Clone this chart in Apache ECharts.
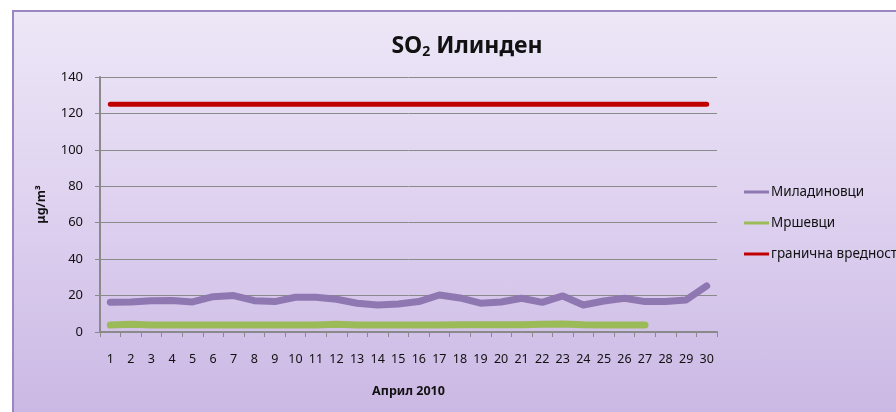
<!DOCTYPE html>
<html>
<head>
<meta charset="utf-8">
<script src="https://cdn.jsdelivr.net/npm/echarts@6/dist/echarts.min.js"></script>
<style>
  html, body { margin: 0; padding: 0; width: 896px; height: 412px; overflow: hidden; background: #fff; }
  .frame {
    position: absolute; left: 12px; top: 10px; width: 900px; height: 420px;
    border: 2px solid #9a86c2; box-sizing: border-box;
    background: linear-gradient(to bottom, #ede7f7 0%, #ddd0ef 50%, #c9b6e3 100%);
  }
  #chart { position: absolute; left: 0; top: 0; width: 896px; height: 412px; }
</style>
</head>
<body>
<div class="frame"></div>
<div id="chart"></div>
<script>
var days = ["1","2","3","4","5","6","7","8","9","10","11","12","13","14","15",
            "16","17","18","19","20","21","22","23","24","25","26","27","28","29","30"];
var miladinovci = [16.3, 16.5, 17.2, 17.3, 16.5, 19.4, 20, 17.2, 16.7, 19.1, 19.1, 18, 15.8, 14.8, 15.4,
                   16.7, 20.3, 18.7, 15.8, 16.5, 18.5, 16.3, 19.8, 14.8, 17, 18.5, 16.7, 16.8, 17.6, 25.3];
var mrsevci = [3.8, 4.2, 3.9, 3.8, 3.8, 3.8, 3.8, 3.8, 3.8, 3.8, 3.8, 4.2, 3.8, 3.8, 3.8,
               3.8, 3.9, 4.0, 4.0, 4.0, 4.0, 4.3, 4.4, 4.0, 3.9, 3.8, 3.8, null, null, null];
var limit = [125, 125, 125, 125, 125, 125, 125, 125, 125, 125, 125, 125, 125, 125, 125,
             125, 125, 125, 125, 125, 125, 125, 125, 125, 125, 125, 125, 125, 125, 125];
var yTicks = { min: 0, max: 140, interval: 20 };

var font = "'Noto Sans', 'DejaVu Sans', sans-serif";
var chart = echarts.init(document.getElementById("chart"));
chart.setOption({
  textStyle: { fontFamily: font },
  animation: false,
  title: {
    text: "{b|SO}{s|2}{b| Илинден}",
    left: 462,
    textAlign: "center",
    top: 28,
    textStyle: {
      rich: {
        b: { fontSize: 23, fontWeight: "bold", color: "#111", fontFamily: font },
        s: { fontSize: 14, fontWeight: "bold", color: "#111", fontFamily: font, padding: [12, 0, 0, 0] }
      }
    }
  },
  legend: {
    orient: "vertical",
    left: 739,
    top: 180,
    itemGap: 17,
    itemWidth: 25,
    itemHeight: 3,
    icon: "rect",
    textStyle: { fontSize: 13.5, color: "#111", padding: [0, 0, 0, -3] },
    data: ["Миладиновци", "Мршевци", "гранична вредност"]
  },
  grid: { left: 100, right: 179, top: 77, bottom: 80 },
  xAxis: {
    type: "category",
    data: days,
    boundaryGap: true,
    name: "Април 2010",
    nameLocation: "middle",
    nameGap: 53,
    nameTextStyle: { fontSize: 12.5, fontWeight: "bold", color: "#111" },
    axisLine: { lineStyle: { color: "#8a8a8a", width: 2 } },
    axisTick: { show: true, interval: 0, length: 5, lineStyle: { color: "#8a8a8a" } },
    axisLabel: { interval: 0, margin: 21, fontSize: 12.5, color: "#111" },
    splitLine: { show: false }
  },
  yAxis: {
    type: "value",
    min: yTicks.min,
    max: yTicks.max,
    interval: yTicks.interval,
    name: "μg/m³",
    nameLocation: "middle",
    nameGap: 52,
    nameRotate: 90,
    nameTextStyle: { fontSize: 12.5, fontWeight: "bold", color: "#111" },
    axisLine: { show: true, lineStyle: { color: "#8a8a8a", width: 2 } },
    axisTick: { show: true, length: 5, lineStyle: { color: "#8a8a8a" } },
    axisLabel: { margin: 17, fontSize: 13, color: "#111" },
    splitLine: { lineStyle: { color: "#8a8a8a", width: 1 } }
  },
  series: [
    {
      name: "Миладиновци", type: "line", data: miladinovci,
      showSymbol: false, symbol: "none", color: "#8f78b1",
      lineStyle: { width: 7, color: "#8f78b1", cap: "round", join: "round" }
    },
    {
      name: "Мршевци", type: "line", data: mrsevci,
      showSymbol: false, symbol: "none", color: "#9bbb59",
      lineStyle: { width: 7, color: "#9bbb59", cap: "round", join: "round" }
    },
    {
      name: "гранична вредност", type: "line", data: limit,
      showSymbol: false, symbol: "none", color: "#c00000",
      lineStyle: { width: 5, color: "#c00000", cap: "round" }
    }
  ]
});
</script>
</body>
</html>
